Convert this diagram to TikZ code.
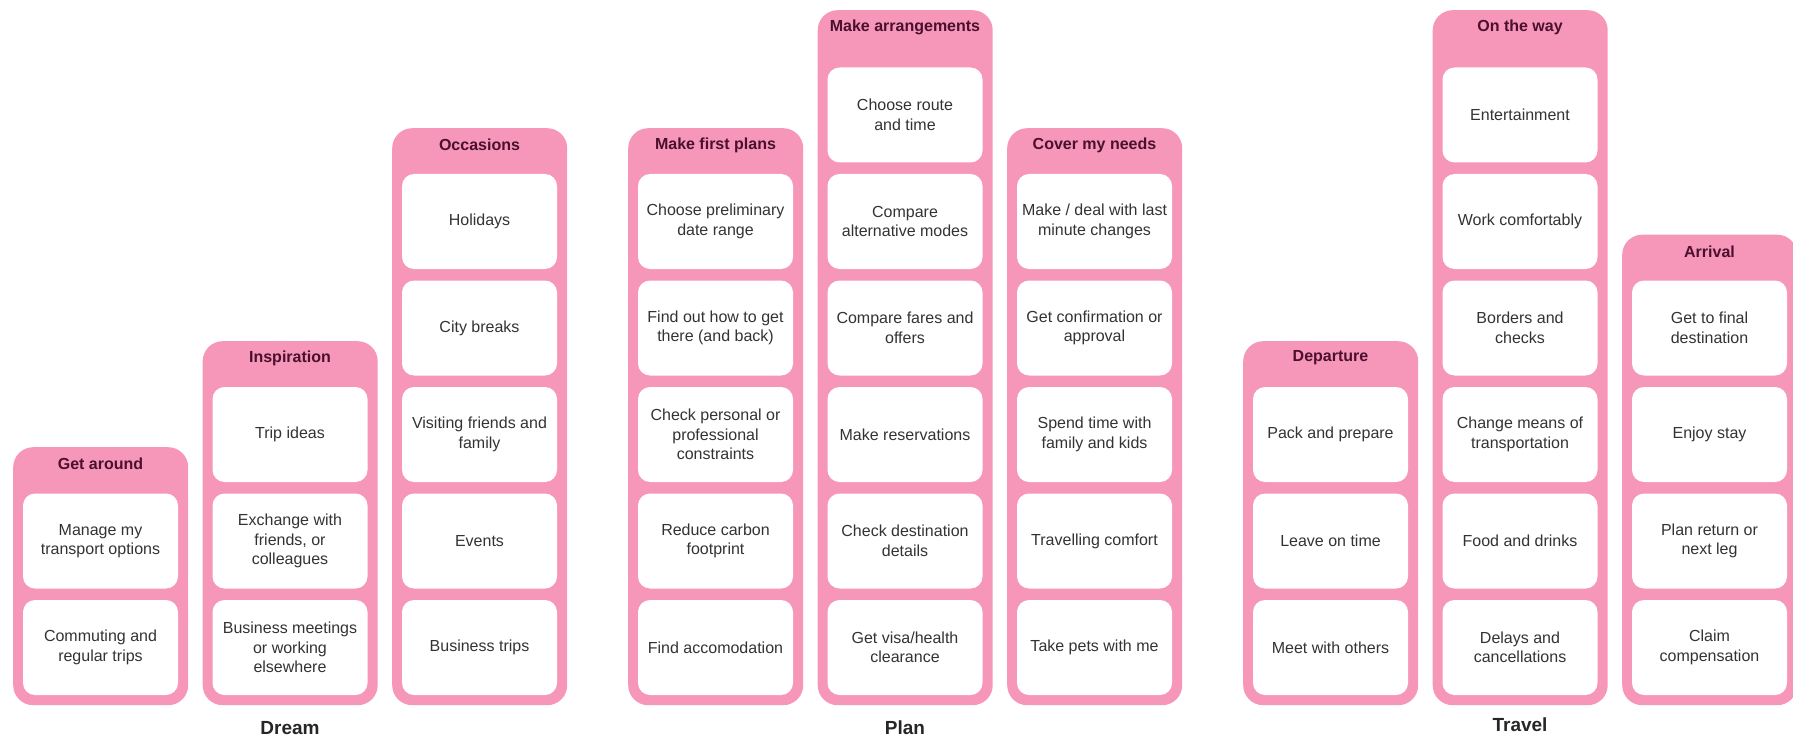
\documentclass[tikz,border=0pt]{standalone}
\usepackage{fontspec}
\setmainfont{Liberation Sans}
\usepackage{tikz}
\usetikzlibrary{positioning}
\usepackage{xcolor}
\definecolor{lanepink}{RGB}{246,150,184}
\definecolor{headtext}{RGB}{74,16,46}
\definecolor{itemtext}{RGB}{51,51,51}

\begin{document}
\begin{tikzpicture}[x=1pt, y=-1pt,
    lane/.style={fill=lanepink, draw=none, rounded corners=20pt, minimum width=175pt, anchor=north west, inner sep=0pt},
    head/.style={text=headtext, font=\bfseries\fontsize{16}{19}\selectfont},
    item/.style={fill=white, draw=none, rounded corners=12pt, minimum width=155pt, minimum height=95pt, inner sep=0pt, align=center, text=itemtext, font=\fontsize{16}{19.5}\selectfont},
    phase/.style={text=black!85, font=\bfseries\fontsize{19}{22}\selectfont}]
                \useasboundingbox (0,0) rectangle (1793,738);

                % Dream
                \node[lane, minimum height=258pt] (getaround) at (13,447) {};
                \node[head] (getaroundh) at (100.5,464) {Get around};
                \node[item] (ga1) at (100.5,541) {Manage my\\transport options};
                \node[item] (ga2) at (100.5,647.5) {Commuting and\\regular trips};

                \node[lane, minimum height=364pt] (inspiration) at (202.5,341) {};
                \node[head] (inspirationh) at (290,358) {Inspiration};
                \node[item] (insp1) at (290,434.5) {Trip ideas};
                \node[item] (insp2) at (290,541) {Exchange with\\friends, or\\colleagues};
                \node[item] (insp3) at (290,647.5) {Business meetings\\or working\\elsewhere};

                \node[lane, minimum height=577pt] (occasions) at (392,128) {};
                \node[head] (occasionsh) at (479.5,145) {Occasions};
                \node[item] (occ1) at (479.5,221.5) {Holidays};
                \node[item] (occ2) at (479.5,328) {City breaks};
                \node[item] (occ3) at (479.5,434.5) {Visiting friends and\\family};
                \node[item] (occ4) at (479.5,541) {Events};
                \node[item] (occ5) at (479.5,647.5) {Business trips};

                \node[phase] (dream) at (290,728) {Dream};

                % Plan
                \node[lane, minimum height=577pt] (firstplans) at (628,128) {};
                \node[head] (firstplansh) at (715.5,145) {Make first plans};
                \node[item] (fp1) at (715.5,221.5) {Choose preliminary\\date range};
                \node[item] (fp2) at (715.5,328) {Find out how to get\\there (and back)};
                \node[item] (fp3) at (715.5,434.5) {Check personal or\\professional\\constraints};
                \node[item] (fp4) at (715.5,541) {Reduce carbon\\footprint};
                \node[item] (fp5) at (715.5,647.5) {Find accomodation};

                \node[lane, minimum height=695pt] (arrangements) at (817.5,10) {};
                \node[head] (arrangementsh) at (905,27) {Make arrangements};
                \node[item] (ar1) at (905,115) {Choose route\\and time};
                \node[item] (ar2) at (905,221.5) {Compare\\alternative modes};
                \node[item] (ar3) at (905,328) {Compare fares and\\offers};
                \node[item] (ar4) at (905,434.5) {Make reservations};
                \node[item] (ar5) at (905,541) {Check destination\\details};
                \node[item] (ar6) at (905,647.5) {Get visa/health\\clearance};

                \node[lane, minimum height=577pt] (needs) at (1007,128) {};
                \node[head] (needsh) at (1094.5,145) {Cover my needs};
                \node[item] (cn1) at (1094.5,221.5) {Make / deal with last\\minute changes};
                \node[item] (cn2) at (1094.5,328) {Get confirmation or\\approval};
                \node[item] (cn3) at (1094.5,434.5) {Spend time with\\family and kids};
                \node[item] (cn4) at (1094.5,541) {Travelling comfort};
                \node[item] (cn5) at (1094.5,647.5) {Take pets with me};

                \node[phase] (plan) at (905,728) {Plan};

                % Travel
                \node[lane, minimum height=364pt] (departure) at (1243,341) {};
                \node[head] (departureh) at (1330.5,358) {Departure};
                \node[item] (dp1) at (1330.5,434.5) {Pack and prepare};
                \node[item] (dp2) at (1330.5,541) {Leave on time};
                \node[item] (dp3) at (1330.5,647.5) {Meet with others};

                \node[lane, minimum height=695pt] (ontheway) at (1432.5,10) {};
                \node[head] (onthewayh) at (1520,27) {On the way};
                \node[item] (ow1) at (1520,115) {Entertainment};
                \node[item] (ow2) at (1520,221.5) {Work comfortably};
                \node[item] (ow3) at (1520,328) {Borders and\\checks};
                \node[item] (ow4) at (1520,434.5) {Change means of\\transportation};
                \node[item] (ow5) at (1520,541) {Food and drinks};
                \node[item] (ow6) at (1520,647.5) {Delays and\\cancellations};

                \node[lane, minimum height=470.5pt] (arrival) at (1622,234.5) {};
                \node[head] (arrivalh) at (1709.5,251.5) {Arrival};
                \node[item] (av1) at (1709.5,328) {Get to final\\destination};
                \node[item] (av2) at (1709.5,434.5) {Enjoy stay};
                \node[item] (av3) at (1709.5,541) {Plan return or\\next leg};
                \node[item] (av4) at (1709.5,647.5) {Claim\\compensation};

                \node[phase] (travel) at (1520,725) {Travel};
            \end{tikzpicture}
\end{document}
